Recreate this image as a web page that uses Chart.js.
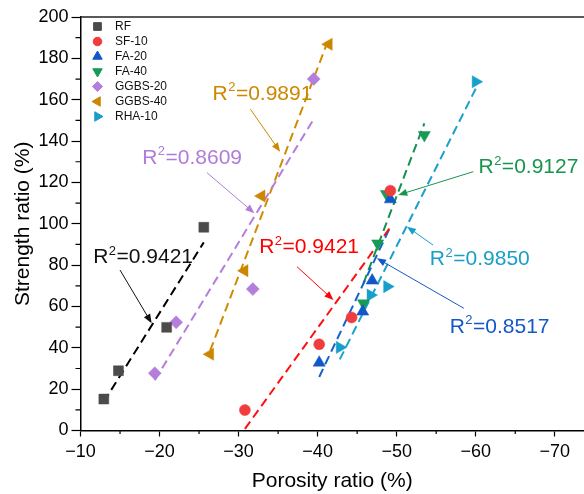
<!DOCTYPE html>
<html>
<head>
<meta charset="utf-8">
<script src="https://cdn.jsdelivr.net/npm/chart.js@4"></script>
<style>
  html, body { margin: 0; padding: 0; background: #fff; }
  #wrap { width: 584px; height: 494px; }
</style>
</head>
<body>
<div id="wrap"><canvas id="porosityChart" width="584" height="494"></canvas></div>
<script>
// mixes
const categories = ["RF", "SF-10", "FA-20", "FA-40", "GGBS-20", "GGBS-40", "RHA-10"];

// porosity ratio (%) / strength ratio (%) per mix
const porosityRF = [-12.95, -14.8, -20.9, -25.6];
const strengthRF = [15.2, 28.9, 49.9, 98.3];
const porositySF10 = [-30.8, -40.2, -44.3, -49.2];
const strengthSF10 = [9.9, 41.7, 54.7, 116.0];
const porosityFA20 = [-40.2, -45.7, -46.9, -49.2];
const strengthFA20 = [32.8, 57.5, 72.5, 111.8];
const porosityFA40 = [-45.8, -47.6, -48.7, -53.5];
const strengthFA40 = [61.5, 90.5, 114.4, 142.9];
const porosityGGBS20 = [-19.4, -22.1, -31.8, -39.5];
const strengthGGBS20 = [27.7, 52.3, 68.4, 170.0];
const porosityGGBS40 = [-26.4, -30.75, -32.9, -41.4];
const strengthGGBS40 = [36.9, 77.3, 113.4, 186.8];
const porosityRHA10 = [-42.8, -46.7, -48.8, -60.0];
const strengthRHA10 = [40.2, 65.5, 69.6, 168.7];

// linear fit lines, start / end of each
const fitPorosity = [
  [-12.95, -25.6], [-30.8, -49.2], [-40.2, -49.2], [-45.8, -53.5],
  [-19.4, -39.5], [-26.4, -41.4], [-42.8, -60.0]
];
const fitStrength = [
  [13.9, 91.0], [0.8, 98.4], [25.9, 98.5], [71.2, 148.5],
  [24.3, 150.6], [38.6, 189.4], [34.4, 165.3]
];
const r2Values = ["0.9421", "0.9421", "0.8517", "0.9127", "0.8609", "0.9891", "0.9850"];

const xTicks = [-10, -20, -30, -40, -50, -60, -70];
const yTicks = [0, 20, 40, 60, 80, 100, 120, 140, 160, 180, 200];

const porosity = [porosityRF, porositySF10, porosityFA20, porosityFA40, porosityGGBS20, porosityGGBS40, porosityRHA10];
const strength = [strengthRF, strengthSF10, strengthFA20, strengthFA40, strengthGGBS20, strengthGGBS40, strengthRHA10];

const FONT = "'Liberation Sans', Arial, Helvetica, sans-serif";

const markerColors = ["#4b4b4b", "#f03c3c", "#1256c8", "#169a55", "#b47edc", "#cc8700", "#179fcb"];
const lineColors   = ["#000000", "#ff1010", "#1560d0", "#12914f", "#b57edc", "#d08c00", "#1aa0cc"];
const noteColors   = ["#111111", "#ff0000", "#1458c8", "#17954f", "#b07cd8", "#cc8800", "#1a9ec8"];
const markerStyles = [
  {pointStyle: "rect", rotation: 0, radius: 7},
  {pointStyle: "circle", rotation: 0, radius: 5.5},
  {pointStyle: "triangle", rotation: 0, radius: 7},
  {pointStyle: "triangle", rotation: 180, radius: 7},
  {pointStyle: "rectRot", rotation: 0, radius: 6.5},
  {pointStyle: "triangle", rotation: 270, radius: 7},
  {pointStyle: "triangle", rotation: 90, radius: 7}
];

// where each R² label sits and where its arrow points (axis units)
const notes = [
  {text: [-11.6, 80.9],  from: [-15.0, 77.6],  to: [-19.0, 51.9]},
  {text: [-32.6, 85.7],  from: [-37.4, 79.2],  to: [-42.0, 63.1]},
  {text: [-56.7, 47.3],  from: [-58.5, 59.1],  to: [-47.5, 83.3]},
  {text: [-60.35, 124.4], from: [-59.7, 125.2], to: [-50.2, 113.9]},
  {text: [-17.8, 128.9], from: [-26.0, 124.7], to: [-32.0, 105.1]},
  {text: [-26.7, 159.9], from: [-31.5, 155.4], to: [-35.25, 134.8]},
  {text: [-54.2, 80.0],  from: [-54.6, 89.7],  to: [-51.3, 98.6]}
];

const pointSets = categories.map((name, i) => ({
  label: name,
  data: porosity[i].map((x, k) => ({x: x, y: strength[i][k]})),
  showLine: false,
  pointStyle: markerStyles[i].pointStyle,
  rotation: markerStyles[i].rotation,
  pointRadius: markerStyles[i].radius,
  pointBackgroundColor: markerColors[i],
  pointBorderColor: markerColors[i],
  pointBorderWidth: 0.5
}));

const fitSets = categories.map((name, i) => ({
  label: name + " fit",
  data: fitPorosity[i].map((x, k) => ({x: x, y: fitStrength[i][k]})),
  showLine: true,
  pointRadius: 0,
  borderColor: lineColors[i],
  borderWidth: 2,
  borderDash: [9, 5]
}));

function drawMarker(ctx, i, x, y, scale) {
  const st = markerStyles[i];
  ctx.save();
  ctx.fillStyle = markerColors[i];
  ctx.strokeStyle = markerColors[i];
  Chart.helpers.drawPoint(ctx, {
    pointStyle: st.pointStyle,
    rotation: st.rotation,
    radius: st.radius * scale,
    borderWidth: 0.5
  }, x, y);
  ctx.restore();
}

const extrasPlugin = {
  id: "extras",
  afterDraw(chart) {
    const ctx = chart.ctx;
    const area = chart.chartArea;
    const xs = chart.scales.x;
    const ys = chart.scales.y;

    // top frame line
    ctx.save();
    ctx.strokeStyle = "#222";
    ctx.lineWidth = 1.5;
    ctx.beginPath();
    ctx.moveTo(area.left, area.top);
    ctx.lineTo(area.right, area.top);
    ctx.stroke();

    // minor ticks
    ctx.strokeStyle = "#000";
    ctx.lineWidth = 1.2;
    ctx.beginPath();
    for (let v = -15; v > -74; v -= 10) {
      const px = xs.getPixelForValue(v);
      ctx.moveTo(px, area.bottom);
      ctx.lineTo(px, area.bottom + 3.5);
    }
    for (let v = 10; v < 200; v += 20) {
      const py = ys.getPixelForValue(v);
      ctx.moveTo(area.left, py);
      ctx.lineTo(area.left - 5, py);
    }
    ctx.stroke();
    ctx.restore();

    // legend
    ctx.save();
    ctx.font = "12px " + FONT;
    ctx.textBaseline = "middle";
    categories.forEach((name, i) => {
      const y = area.top + 9.5 + i * 15;
      drawMarker(ctx, i, area.left + 17, y, 0.78);
      ctx.fillStyle = "#111";
      ctx.fillText(name, area.left + 34.5, y + 0.5);
    });
    ctx.restore();

    // R² labels with arrows
    notes.forEach((n, i) => {
      const color = noteColors[i];
      const tx = xs.getPixelForValue(n.text[0]);
      const ty = ys.getPixelForValue(n.text[1]);
      ctx.save();
      ctx.fillStyle = color;
      ctx.textBaseline = "alphabetic";
      ctx.font = "21px " + FONT;
      ctx.fillText("R", tx, ty);
      let w = ctx.measureText("R").width;
      ctx.font = "13px " + FONT;
      ctx.fillText("2", tx + w + 0.5, ty - 8.5);
      w += ctx.measureText("2").width + 1;
      ctx.font = "21px " + FONT;
      ctx.fillText("=" + r2Values[i], tx + w, ty);

      const x1 = xs.getPixelForValue(n.from[0]);
      const y1 = ys.getPixelForValue(n.from[1]);
      const x2 = xs.getPixelForValue(n.to[0]);
      const y2 = ys.getPixelForValue(n.to[1]);
      const ang = Math.atan2(y2 - y1, x2 - x1);
      const head = 9, half = 3.6;
      ctx.strokeStyle = color;
      ctx.lineWidth = 1;
      ctx.beginPath();
      ctx.moveTo(x1, y1);
      ctx.lineTo(x2 - Math.cos(ang) * head * 0.8, y2 - Math.sin(ang) * head * 0.8);
      ctx.stroke();
      ctx.beginPath();
      ctx.moveTo(x2, y2);
      ctx.lineTo(x2 - Math.cos(ang) * head - Math.sin(ang) * half, y2 - Math.sin(ang) * head + Math.cos(ang) * half);
      ctx.lineTo(x2 - Math.cos(ang) * head + Math.sin(ang) * half, y2 - Math.sin(ang) * head - Math.cos(ang) * half);
      ctx.closePath();
      ctx.fill();
      ctx.restore();
    });
  }
};

new Chart(document.getElementById("porosityChart"), {
  type: "scatter",
  data: {datasets: pointSets.concat(fitSets)},
  options: {
    responsive: false,
    animation: false,
    layout: {autoPadding: false, padding: {top: 17, left: 0, right: 0, bottom: 0}},
    plugins: {legend: {display: false}, tooltip: {enabled: false}},
    scales: {
      x: {
        type: "linear",
        reverse: true,
        min: -73.7,
        max: -10,
        afterBuildTicks: s => { s.ticks = xTicks.map(v => ({value: v})); },
        afterFit: s => { s.height = 63.5; s.paddingLeft = 0; s.paddingRight = 0; },
        grid: {drawOnChartArea: false, drawTicks: true, tickLength: 6, tickColor: "#000", tickWidth: 1.2},
        border: {display: true, color: "#000", width: 1.5},
        ticks: {
          color: "#000",
          font: {family: FONT, size: 18},
          padding: 5,
          maxRotation: 0,
          autoSkip: false,
          callback: v => String(v).replace("-", "\u2212")
        },
        title: {
          display: true,
          text: "Porosity ratio (%)",
          color: "#000",
          font: {family: FONT, size: 21},
          padding: {top: 2, bottom: 0}
        }
      },
      y: {
        type: "linear",
        min: 0,
        max: 200,
        afterBuildTicks: s => { s.ticks = yTicks.map(v => ({value: v})); },
        afterFit: s => { s.width = 80.5; },
        grid: {drawOnChartArea: false, drawTicks: true, tickLength: 9, tickColor: "#000", tickWidth: 1.2},
        border: {display: true, color: "#000", width: 1.5},
        ticks: {
          color: "#000",
          font: {family: FONT, size: 18},
          padding: 3,
          autoSkip: false
        },
        title: {
          display: true,
          text: "Strength ratio (%)",
          color: "#000",
          font: {family: FONT, size: 21},
          padding: {top: 11, bottom: 0}
        }
      }
    }
  },
  plugins: [extrasPlugin]
});
</script>
</body>
</html>
